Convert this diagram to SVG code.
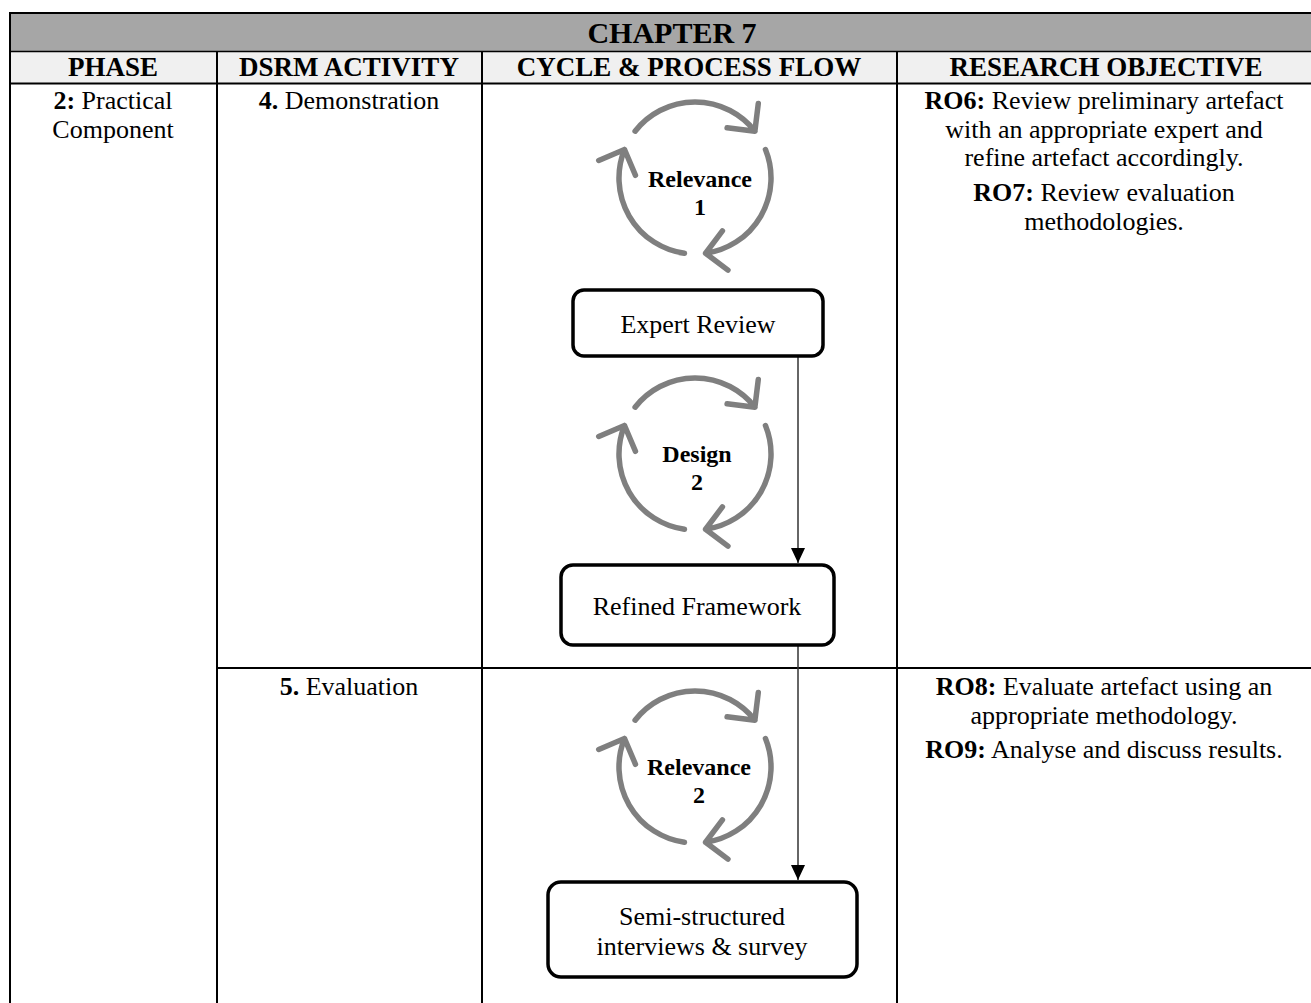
<svg xmlns="http://www.w3.org/2000/svg" width="1311" height="1003" viewBox="0 0 1311 1003">
<style>
  text { font-family: "Liberation Serif", "Times New Roman", serif; fill: #000; }
  .chap { font-size: 30px; font-weight: bold; }
  .hd { font-size: 27px; font-weight: bold; }
  .tx { font-size: 26px; }
  .b { font-weight: bold; }
  .lbl { font-size: 24px; font-weight: bold; }
  .grid { stroke: #000; stroke-width: 2; fill: none; }
  .box { fill: #fff; stroke: #000; stroke-width: 3.5; }
  .cyc { fill: none; stroke: #7f7f7f; stroke-width: 5.5; stroke-linecap: round; stroke-linejoin: round; }
  .flow { stroke: #333; stroke-width: 1.5; fill: none; }
</style>
<defs>
  <!-- one third of a circular-arrow cycle, centred on the origin -->
  <path id="arc" d="M -59.9 -46.8 A 76 76 0 0 1 59.9 -46.8 M 32.1 -50.2 L 59.9 -46.8 L 63.3 -74.6"/>
  <g id="cycle" class="cyc">
    <use href="#arc"/>
    <use href="#arc" transform="rotate(120)"/>
    <use href="#arc" transform="rotate(240)"/>
  </g>
  <marker id="ah" viewBox="0 0 15 14" markerWidth="15" markerHeight="14" refX="15" refY="7" orient="auto" markerUnits="userSpaceOnUse">
    <path d="M0 0 L15 7 L0 14 Z" fill="#000"/>
  </marker>
</defs>

<rect x="0" y="0" width="1311" height="1003" fill="#fff"/>

<!-- table -->
<g id="table">
  <rect x="10" y="13" width="1301" height="39" fill="#a6a6a6"/>
  <rect x="10" y="52" width="1301" height="31" fill="#f0f0f0"/>
  <path class="grid" d="M9 13 H1311 M9 83.5 H1311 M10 12 V1003 M217 52 V1003 M482 52 V1003 M897 52 V1003 M217 668 H1311"/>
  <path d="M9 51.5 H1311" stroke="#000" stroke-width="1.5"/>
  <text class="chap" x="672" y="43" text-anchor="middle">CHAPTER 7</text>
  <text class="hd" x="113" y="76" text-anchor="middle">PHASE</text>
  <text class="hd" x="349" y="76" text-anchor="middle">DSRM ACTIVITY</text>
  <text class="hd" x="689" y="76" text-anchor="middle">CYCLE &amp; PROCESS FLOW</text>
  <text class="hd" x="1106" y="76" text-anchor="middle">RESEARCH OBJECTIVE</text>

  <text class="tx" x="113" y="109" text-anchor="middle"><tspan class="b">2:</tspan> Practical</text>
  <text class="tx" x="113" y="138" text-anchor="middle">Component</text>

  <text class="tx" x="349" y="109" text-anchor="middle"><tspan class="b">4.</tspan> Demonstration</text>
  <text class="tx" x="349" y="695" text-anchor="middle"><tspan class="b">5.</tspan> Evaluation</text>

  <text class="tx" x="1104" y="109" text-anchor="middle"><tspan class="b">RO6:</tspan> Review preliminary artefact</text>
  <text class="tx" x="1104" y="138" text-anchor="middle">with an appropriate expert and</text>
  <text class="tx" x="1104" y="166" text-anchor="middle">refine artefact accordingly.</text>
  <text class="tx" x="1104" y="201" text-anchor="middle"><tspan class="b">RO7:</tspan> Review evaluation</text>
  <text class="tx" x="1104" y="230" text-anchor="middle">methodologies.</text>

  <text class="tx" x="1104" y="695" text-anchor="middle"><tspan class="b">RO8:</tspan> Evaluate artefact using an</text>
  <text class="tx" x="1104" y="724" text-anchor="middle">appropriate methodology.</text>
  <text class="tx" x="1104" y="758" text-anchor="middle"><tspan class="b">RO9:</tspan> Analyse and discuss results.</text>
</g>

<!-- cycles -->
<g id="cycle-relevance-1">
  <use href="#cycle" transform="translate(695 178)"/>
  <text class="lbl" x="700" y="187" text-anchor="middle">Relevance</text>
  <text class="lbl" x="700" y="215" text-anchor="middle">1</text>
</g>
<g id="cycle-design-2">
  <use href="#cycle" transform="translate(695 454)"/>
  <text class="lbl" x="697" y="462" text-anchor="middle">Design</text>
  <text class="lbl" x="697" y="490" text-anchor="middle">2</text>
</g>
<g id="cycle-relevance-2">
  <use href="#cycle" transform="translate(695 767)"/>
  <text class="lbl" x="699" y="775" text-anchor="middle">Relevance</text>
  <text class="lbl" x="699" y="803" text-anchor="middle">2</text>
</g>

<!-- connectors -->
<g id="connectors">
  <path class="flow" d="M798 356 V563" marker-end="url(#ah)"/>
  <path class="flow" d="M798 645 V880" marker-end="url(#ah)"/>
</g>

<!-- process boxes -->
<g id="expert-review">
  <rect class="box" x="573" y="290" width="250" height="66" rx="11"/>
  <text class="tx" x="698" y="333" text-anchor="middle">Expert Review</text>
</g>
<g id="refined-framework">
  <rect class="box" x="561" y="565" width="273" height="80" rx="12"/>
  <text class="tx" x="697" y="615" text-anchor="middle">Refined Framework</text>
</g>
<g id="semi-structured">
  <rect class="box" x="548" y="882" width="309" height="95" rx="13"/>
  <text class="tx" x="702" y="925" text-anchor="middle">Semi-structured</text>
  <text class="tx" x="702" y="955" text-anchor="middle">interviews &amp; survey</text>
</g>
</svg>
